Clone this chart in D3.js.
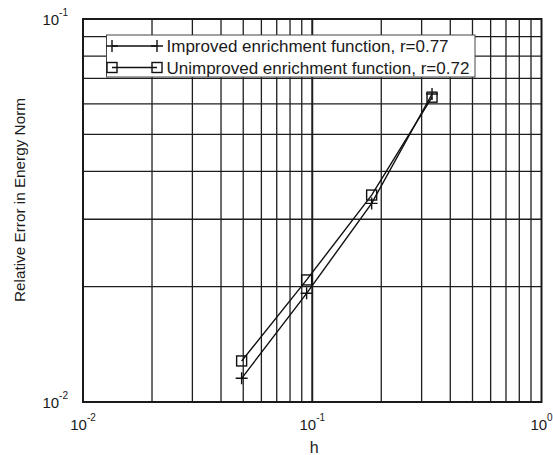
<!DOCTYPE html>
<html>
<head>
<meta charset="utf-8">
<script src="https://cdn.jsdelivr.net/npm/d3@7"></script>
<style>
  body { margin: 0; background: #fff; }
  text { font-family: "Liberation Sans", Arial, sans-serif; fill: #1a1a1a; }
</style>
</head>
<body>
<svg id="chart" width="553" height="455"></svg>
<script>
// data
const hValues = [0.0492, 0.0945, 0.1816, 0.333];
const errImproved = [0.01153, 0.01922, 0.0330, 0.0637];
const errUnimproved = [0.0128, 0.02083, 0.0347, 0.0625];
const seriesNames = ["Improved enrichment function, r=0.77", "Unimproved enrichment function, r=0.72"];
const xDecades = [-2, -1, 0];
const yDecades = [-2, -1];

const width = 553;
const height = 455;
const margin = { top: 19, right: 11.5, bottom: 53, left: 83 };

const x = d3.scaleLog().domain([0.01, 1]).range([margin.left, width - margin.right]);
const y = d3.scaleLog().domain([0.01, 0.1]).range([height - margin.bottom, margin.top]);

const svg = d3.select("#chart");

// gridlines (minor + major)
const minorX = [];
[0.01, 0.1].forEach(d => { for (let k = 2; k <= 9; k++) minorX.push(d * k); });
const minorY = [];
for (let k = 2; k <= 9; k++) minorY.push(0.01 * k);

const grid = svg.append("g").attr("stroke", "#1e1e1e");
grid.selectAll(null).data(minorX).join("line")
  .attr("x1", d => x(d)).attr("x2", d => x(d))
  .attr("y1", y.range()[0]).attr("y2", y.range()[1])
  .attr("stroke-width", 1.3);
grid.selectAll(null).data(minorY).join("line")
  .attr("y1", d => y(d)).attr("y2", d => y(d))
  .attr("x1", x.range()[0]).attr("x2", x.range()[1])
  .attr("stroke-width", 1.3);
// major line at 10^-1
grid.append("line")
  .attr("x1", x(0.1)).attr("x2", x(0.1))
  .attr("y1", y.range()[0]).attr("y2", y.range()[1])
  .attr("stroke-width", 2);

// frame
svg.append("rect")
  .attr("x", x.range()[0]).attr("y", y.range()[1])
  .attr("width", x.range()[1] - x.range()[0])
  .attr("height", y.range()[0] - y.range()[1])
  .attr("fill", "none").attr("stroke", "#1a1a1a").attr("stroke-width", 2);

// tick labels 10^n
const xl = svg.append("g").attr("font-size", 15);
xDecades.forEach(p => {
  const t = xl.append("text").attr("x", x(Math.pow(10, p))).attr("y", 430).attr("text-anchor", "middle");
  t.append("tspan").text("10");
  t.append("tspan").attr("font-size", 10).attr("dy", -9).text(p);
});
yDecades.forEach(p => {
  const t = xl.append("text").attr("x", 68).attr("y", y(Math.pow(10, p)) + 6).attr("text-anchor", "end");
  t.append("tspan").text("10");
  t.append("tspan").attr("font-size", 10).attr("dy", -9).text(p);
});

// axis titles
svg.append("text").attr("x", (x.range()[0] + x.range()[1]) / 2 + 2).attr("y", 453)
  .attr("text-anchor", "middle").attr("font-size", 16).text("h");
svg.append("text")
  .attr("transform", "translate(25,200) rotate(-90)")
  .attr("text-anchor", "middle").attr("font-size", 15.3)
  .text("Relative Error in Energy Norm");

// series
const series = [
  { name: seriesNames[0], vals: errImproved, marker: "plus" },
  { name: seriesNames[1], vals: errUnimproved, marker: "square" }
];
const line = d3.line().x(d => x(d[0])).y(d => y(d[1]));

const drawMarker = (g, type, cx, cy) => {
  if (type === "plus") {
    g.append("path").attr("d", `M${cx - 6},${cy}H${cx + 6}M${cx},${cy - 6}V${cy + 6}`)
      .attr("stroke", "#111").attr("stroke-width", 1.4).attr("fill", "none");
  } else {
    g.append("rect").attr("x", cx - 5).attr("y", cy - 5).attr("width", 10).attr("height", 10)
      .attr("stroke", "#111").attr("stroke-width", 1.4).attr("fill", "none");
  }
};

series.forEach(s => {
  const pts = hValues.map((h, i) => [h, s.vals[i]]);
  const g = svg.append("g");
  g.append("path").datum(pts).attr("d", line)
    .attr("fill", "none").attr("stroke", "#111").attr("stroke-width", 1.4);
  pts.forEach(p => drawMarker(g, s.marker, x(p[0]), y(p[1])));
});

// legend
const lg = svg.append("g");
lg.append("rect").attr("x", 106.5).attr("y", 35).attr("width", 368.5).attr("height", 42)
  .attr("fill", "#fff").attr("stroke", "#444").attr("stroke-width", 1);
series.forEach((s, i) => {
  const cy = 46 + i * 21.5;
  lg.append("line").attr("x1", 112).attr("x2", 157).attr("y1", cy).attr("y2", cy)
    .attr("stroke", "#111").attr("stroke-width", 1.4);
  drawMarker(lg, s.marker, 112, cy);
  drawMarker(lg, s.marker, 157, cy);
  lg.append("text").attr("x", 166.5).attr("y", cy + 6).attr("font-size", 17).text(s.name);
});
</script>
</body>
</html>
